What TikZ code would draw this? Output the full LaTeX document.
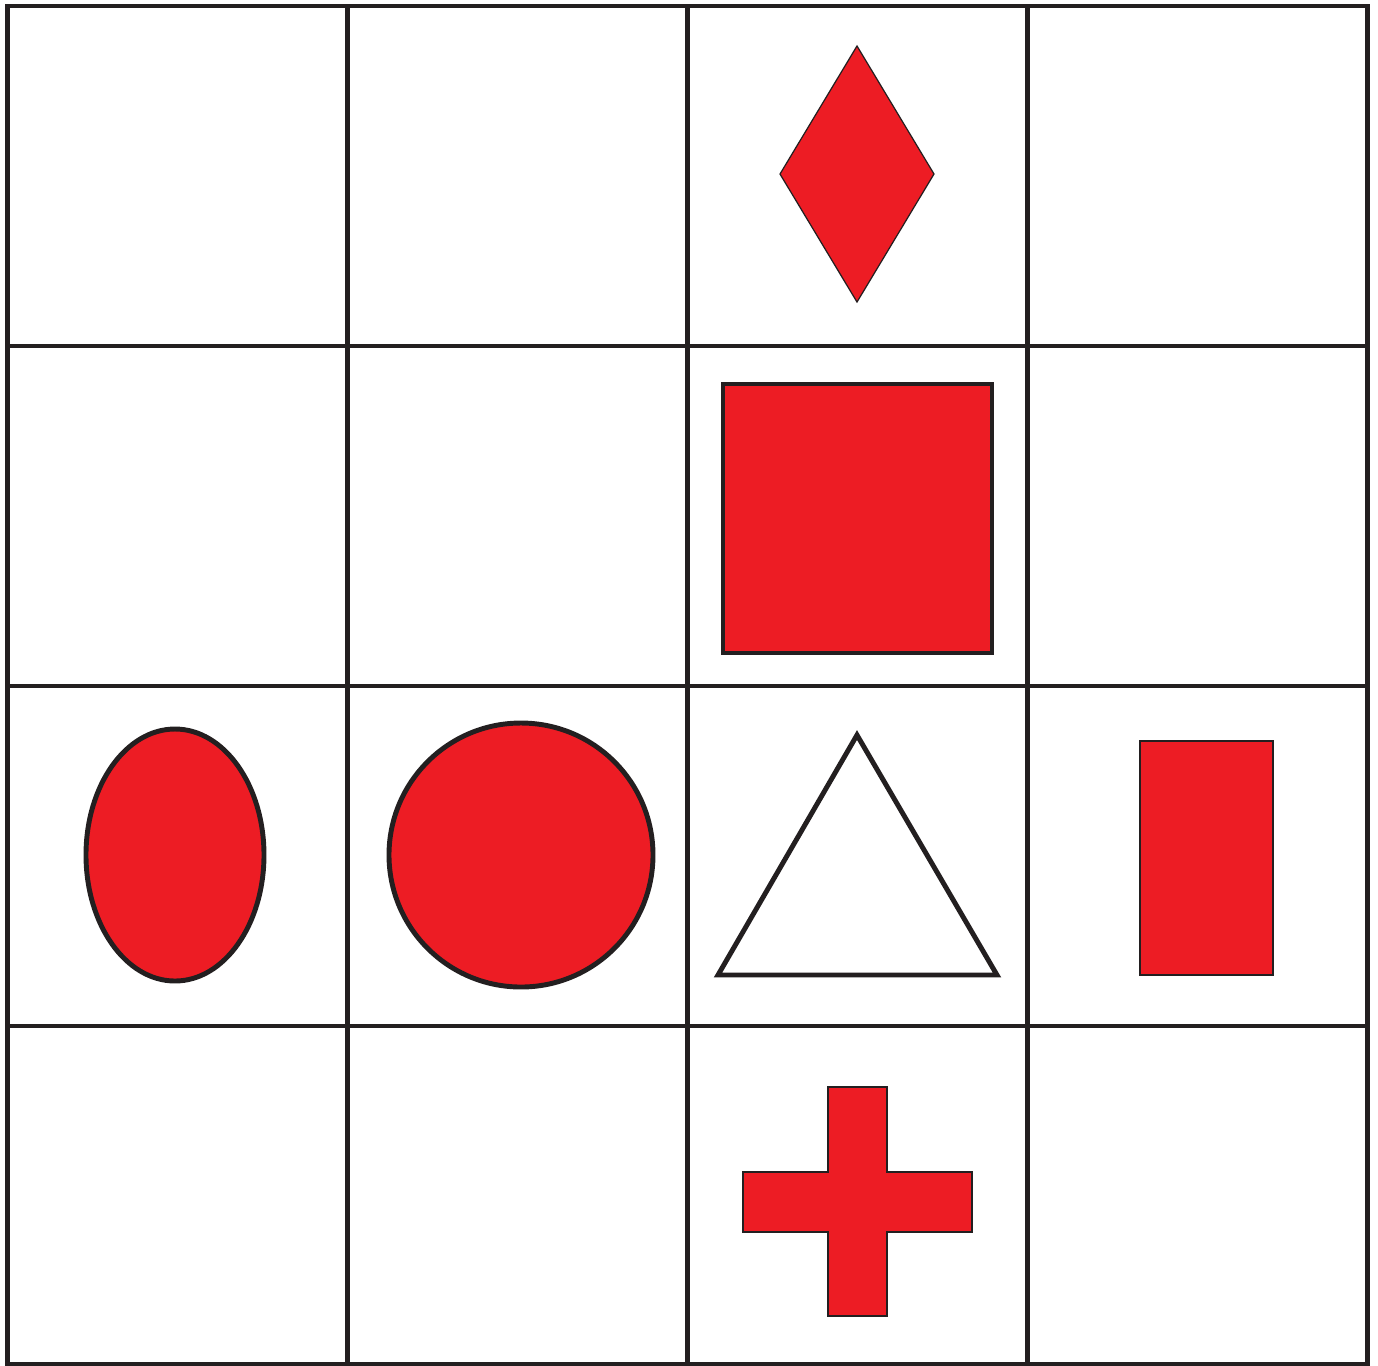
\documentclass[tikz,border=0pt]{standalone}
\usetikzlibrary{shapes.geometric}
\definecolor{figred}{HTML}{ED1C24}
\definecolor{ink}{HTML}{231F20}
\begin{document}
\begin{tikzpicture}[
  x=0.01cm, y=-0.01cm,
  gridline/.style={draw=ink, line width=1.4pt, line cap=rect},
  bold/.style={draw=ink, line width=1.4pt, fill=figred},
  thin/.style={draw=ink, line width=0.35pt, fill=figred},
  hollow/.style={draw=ink, line width=1.4pt, fill=white, line join=miter}
]
\useasboundingbox (0,0) rectangle (1378,1365);
% grid
\foreach \gx in {7.5,347.5,687.5,1027.5,1367.5}
  \draw[gridline] (\gx,6) -- (\gx,1364);
\foreach \gy in {6,346,686,1026,1364}
  \draw[gridline] (7.5,\gy) -- (1367.5,\gy);
% column three
\draw[thin] (857,46) -- (934,174) -- (857,302) -- (780,174) -- cycle;
\draw[bold] (723,384) rectangle (992,653);
\draw[hollow] (857,735) -- (997,975) -- (718,975) -- cycle;
\draw[thin] (828,1087) -- (887,1087) -- (887,1172) -- (972,1172) -- (972,1232)
  -- (887,1232) -- (887,1316) -- (828,1316) -- (828,1232) -- (743,1232)
  -- (743,1172) -- (828,1172) -- cycle;
% row three
\draw[bold] (175,855) ellipse [x radius=89, y radius=126];
\draw[bold] (521,855) circle [radius=132];
\draw[thin] (1140,741) rectangle (1273,975);
\end{tikzpicture}
\end{document}
